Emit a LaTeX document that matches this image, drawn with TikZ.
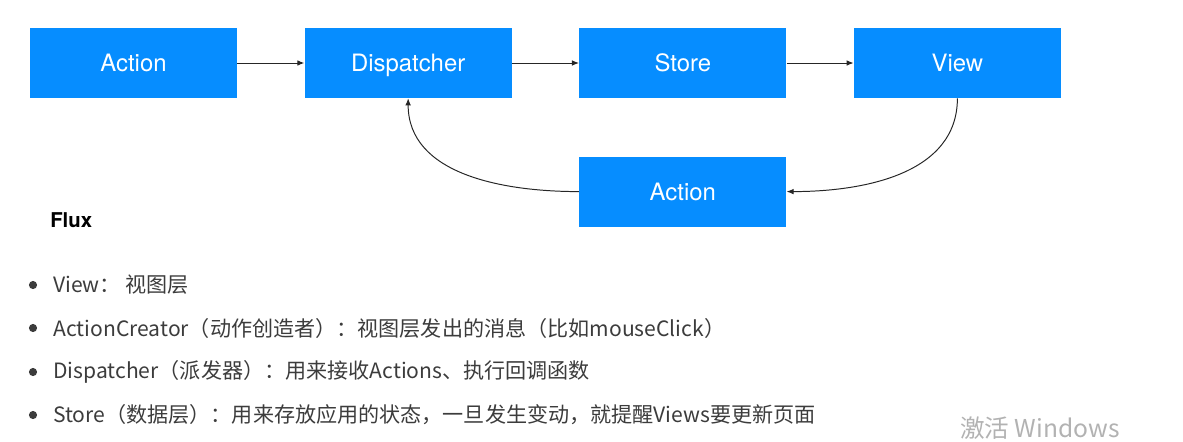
\documentclass[tikz,border=0pt]{standalone}
\usepackage{fontspec}
\setmainfont{TeX Gyre Heros}
\newfontfamily\cjk{Noto Sans CJK SC}
\usetikzlibrary{arrows.meta,positioning}
\definecolor{fluxblue}{RGB}{6,141,255}
\definecolor{itemgray}{RGB}{60,60,60}
\tikzset{%
  fluxbox/.style={fill=fluxblue, text=white, minimum width=5.175cm, minimum height=1.75cm, inner sep=0pt, text height=12pt, text depth=0pt, font=\fontsize{17}{20}\selectfont},
  line/.style={draw, line width=0.7pt, color=black!85, -{Latex[length=5pt,width=4pt]}},
  item/.style={anchor=west, inner sep=0pt, text=itemgray, font=\cjk\fontsize{15}{18}\selectfont},
}
\newcommand{\fluxitem}[3]{%
  \fill [itemgray] (33,#2) circle (2.9pt);
  \node (#1) [item] at (53,#2) {#3};}

\begin{document}
\begin{tikzpicture}
  [
    x=0.025cm, y=-0.025cm,
    node distance=1.675cm and 1.675cm,
  ]
  \useasboundingbox (0,0) rectangle (1183,441);

  \node (act) [fluxbox] at (133.5,63) {Action};
  \node (disp) [fluxbox, right=of act] {Dispatcher};
  \node (store) [fluxbox, right=of disp] {Store};
  \node (view) [fluxbox, right=of store] {View};
  \node (act2) [fluxbox, below=1.45cm of store] {Action};

  \path [line] (act) -- (disp);
  \path [line] (disp) -- (store);
  \path [line] (store) -- (view);
  \path [line] (view.south) to [out=-90, in=0] (act2.east);
  \path [line] (act2.west) to [out=180, in=-90] (disp.south);

  \node (flux) [anchor=west, inner sep=0pt, font=\bfseries\fontsize{14.5}{17}\selectfont] at (50,220) {Flux};

  \fluxitem{it1}{285}{View： 视图层}
  \fluxitem{it2}{328}{ActionCreator（动作创造者）：视图层发出的消息（比如mouseClick）}
  \fluxitem{it3}{372}{Dispatcher（派发器）：用来接收Actions、执行回调函数}
  \fluxitem{it4}{415}{Store（数据层）：用来存放应用的状态，一旦发生变动，就提醒Views要更新页面}

  \node (win) [anchor=west, inner sep=0pt, text=black!30, font=\cjk\fontsize{17.5}{20}\selectfont] at (960,428) {激活 Windows};
\end{tikzpicture}
\end{document}
